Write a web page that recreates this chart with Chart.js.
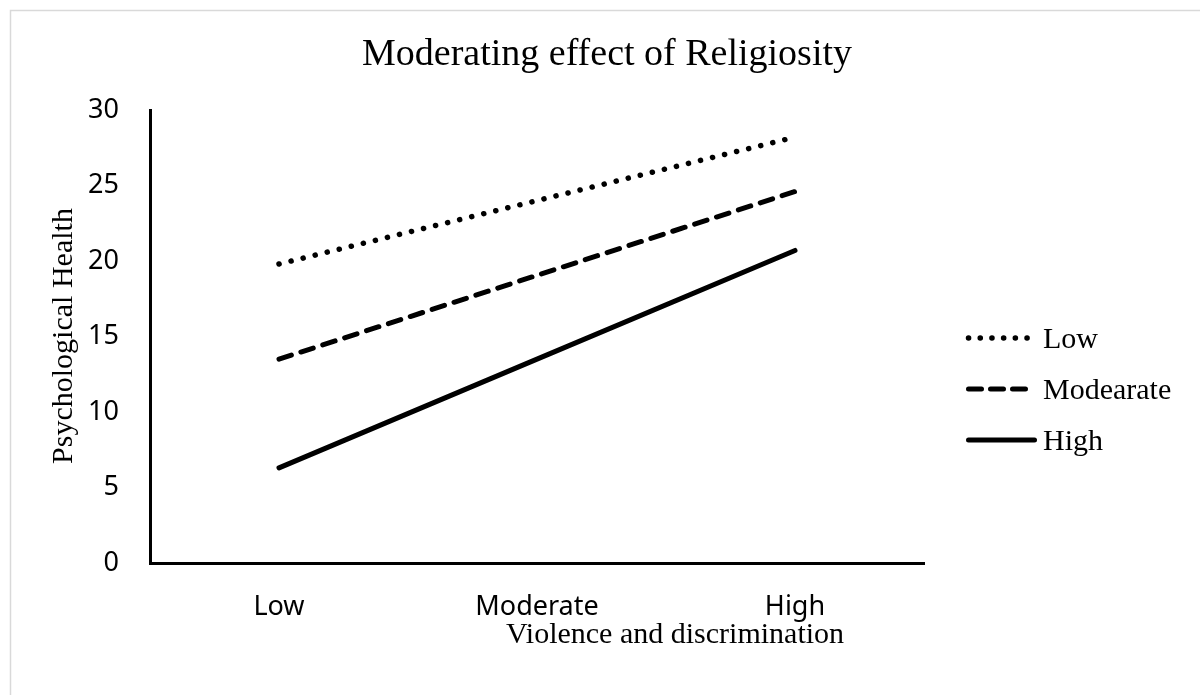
<!DOCTYPE html>
<html><head><meta charset="utf-8">
<script src="https://cdn.jsdelivr.net/npm/chart.js@4/dist/chart.umd.min.js"></script>
<style>html,body{margin:0;padding:0;background:#fff;}#wrap{width:1200px;height:695px;position:relative;}</style>
</head><body><div id="wrap"><canvas id="c" width="1200" height="695"></canvas></div>
<script>
const chartTitle = 'Moderating effect of Religiosity';
const xAxisTitle = 'Violence and discrimination';
const yAxisTitle = 'Psychological Health';
const categories = ['Low', 'Moderate', 'High'];
const seriesNames = ['Low', 'Modearate', 'High'];
const lowReligiosity = [19.8, 24.0, 28.2];
const moderateReligiosity = [13.5, 19.05, 24.6];
const highReligiosity = [6.3, 13.5, 20.7];
const yMin = 0, yMax = 30, yStep = 5;

const serif = '"Liberation Serif", "Times New Roman", serif';
const sans = '"Noto Sans", "Open Sans", sans-serif';

const decoPlugin = {
  id: 'deco',
  beforeDraw(chart) {
    const ctx = chart.ctx;
    ctx.save();
    ctx.fillStyle = '#fff';
    ctx.fillRect(0, 0, chart.width, chart.height);
    ctx.strokeStyle = '#d9d9d9';
    ctx.lineWidth = 1.5;
    ctx.beginPath();
    ctx.moveTo(10.5, chart.height);
    ctx.lineTo(10.5, 10.5);
    ctx.lineTo(chart.width, 10.5);
    ctx.stroke();
    ctx.restore();
  },
  afterDraw(chart) {
    const ctx = chart.ctx;
    ctx.save();
    ctx.fillStyle = '#000';
    ctx.textBaseline = 'alphabetic';
    ctx.textAlign = 'center';
    ctx.font = '38px ' + serif;
    ctx.fillText(chartTitle, 607, 65);
    ctx.font = '30px ' + serif;
    ctx.fillText(xAxisTitle, 675, 643);
    ctx.save();
    ctx.translate(72, 336);
    ctx.rotate(-Math.PI / 2);
    ctx.fillText(yAxisTitle, 0, 0);
    ctx.restore();
    // legend
    ctx.textAlign = 'left';
    chart.data.datasets.forEach((ds, i) => {
      const y = 338 + i * 51;
      ctx.save();
      ctx.strokeStyle = ds.borderColor;
      ctx.lineWidth = ds.borderWidth;
      ctx.lineCap = 'round';
      ctx.setLineDash(ds.legendDash || ds.borderDash || []);
      ctx.beginPath();
      ctx.moveTo(968.5, y);
      ctx.lineTo(1034.5, y);
      ctx.stroke();
      ctx.restore();
      ctx.fillText(ds.label, 1043, y + 10);
    });
    ctx.restore();
  }
};

new Chart(document.getElementById('c'), {
  type: 'line',
  data: {
    labels: categories,
    datasets: [
      { label: seriesNames[0], data: lowReligiosity, borderColor: '#000', borderWidth: 5.5, borderDash: [0.1, 12.3], legendDash: [0.1, 11.6], borderCapStyle: 'round', pointRadius: 0, fill: false, tension: 0 },
      { label: seriesNames[1], data: moderateReligiosity, borderColor: '#000', borderWidth: 5, borderDash: [13, 10], legendDash: [13, 9], borderCapStyle: 'round', pointRadius: 0, fill: false, tension: 0 },
      { label: seriesNames[2], data: highReligiosity, borderColor: '#000', borderWidth: 5, borderCapStyle: 'round', pointRadius: 0, fill: false, tension: 0 }
    ]
  },
  options: {
    responsive: false,
    animation: false,
    devicePixelRatio: 1,
    layout: { padding: { top: 110, right: 276, bottom: 52, left: 0 } },
    plugins: { legend: { display: false }, title: { display: false }, tooltip: { enabled: false } },
    scales: {
      x: {
        offset: true,
        grid: { display: false, drawTicks: false },
        border: { display: true, color: '#000', width: 3 },
        ticks: { color: '#000', font: { family: sans, size: 27 }, padding: 28, maxRotation: 0, autoSkip: false },
        afterFit(s) { s.height = 80; }
      },
      y: {
        min: yMin, max: yMax,
        grid: { display: false, drawTicks: false },
        border: { display: true, color: '#000', width: 3 },
        ticks: { stepSize: yStep, color: '#000', font: { family: sans, size: 27 }, padding: 31 },
        afterFit(s) { s.width = 150; }
      }
    }
  },
  plugins: [decoPlugin]
});
</script>
</body></html>
